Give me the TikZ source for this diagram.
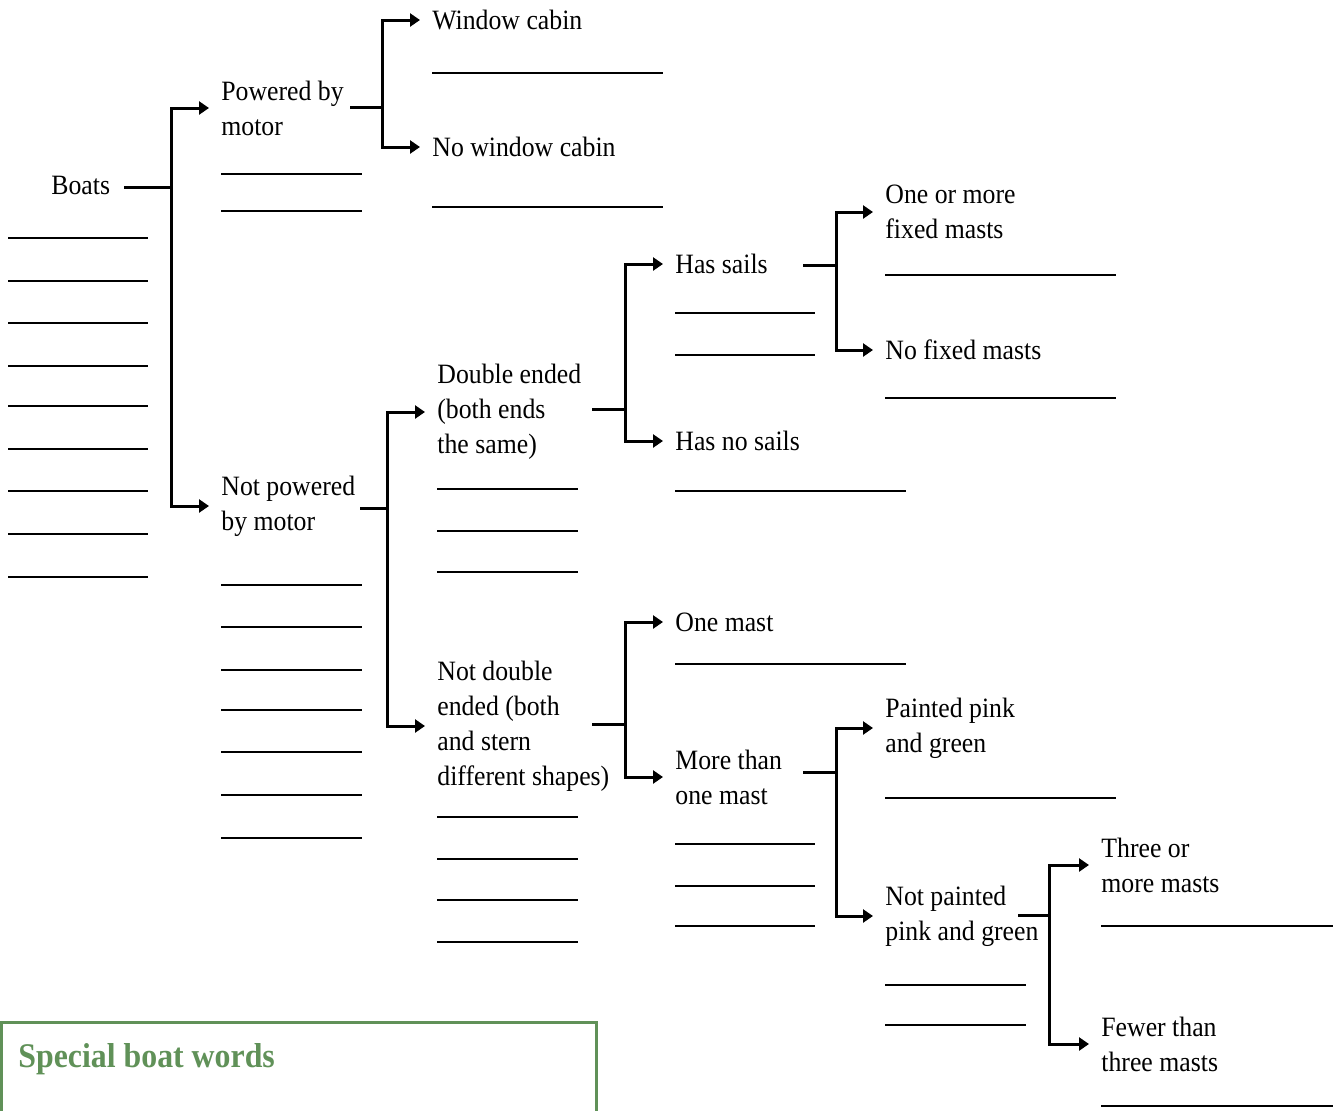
\documentclass[tikz,border=0pt]{standalone}
\usepackage{fontspec}
\setmainfont[FakeStretch=0.92]{Liberation Serif}
\usepackage{tikz}
\usetikzlibrary{arrows.meta}
\definecolor{boxgreen}{RGB}{96,145,88}

\begin{document}
\begin{tikzpicture}[x=0.5pt, y=-0.5pt,
  lbl/.style={anchor=west, align=left, inner xsep=6pt, inner ysep=2pt, font=\fontsize{14}{17.5}\selectfont},
  link/.style={line width=1.5pt},
  arr/.style={link, -{Triangle[length=5pt,width=6.5pt]}},
  rule/.style={line width=1.35pt}]
\useasboundingbox (0,0) rectangle (1339,1110);
% labels
\node[lbl] (boats)      at (39,185)   {Boats};
\node[lbl] (powered)    at (209,108)  {Powered by\\motor};
\node[lbl] (window)     at (420,20)   {Window cabin};
\node[lbl] (nowindow)   at (420,147)  {No window cabin};
\node[lbl] (notpowered) at (209,506)  {Not powered\\by motor};
\node[lbl] (double)     at (425,412)  {Double ended\\(both ends\\the same)};
\node[lbl] (notdouble)  at (425,726)  {Not double\\ended (both\\and stern\\different shapes)};
\node[lbl] (hassails)   at (663,264)  {Has sails};
\node[lbl] (hasnosails) at (663,441)  {Has no sails};
\node[lbl] (fixed)      at (873,212)  {One or more\\fixed masts};
\node[lbl] (nofixed)    at (873,350)  {No fixed masts};
\node[lbl] (onemast)    at (663,622)  {One mast};
\node[lbl] (morethan)   at (663,777)  {More than\\one mast};
\node[lbl] (painted)    at (873,728)  {Painted pink\\and green};
\node[lbl] (notpainted) at (873,916)  {Not painted\\pink and green};
\node[lbl] (three)      at (1089,865) {Three or\\more masts};
\node[lbl] (fewer)      at (1089,1044){Fewer than\\three masts};
% branch points
\coordinate (b0) at (124,187);  \coordinate (b1) at (171,187);
\coordinate (p0) at (350,107);  \coordinate (p1) at (382,107);
\coordinate (n0) at (360,508);  \coordinate (n1) at (387,508);
\coordinate (d0) at (592,409);  \coordinate (d1) at (625,409);
\coordinate (s0) at (803,265);  \coordinate (s1) at (836,265);
\coordinate (e0) at (592,724);  \coordinate (e1) at (625,724);
\coordinate (m0) at (803,772);  \coordinate (m1) at (836,772);
\coordinate (g0) at (1018,915); \coordinate (g1) at (1049,915);
\draw[link] (b0) -- (b1);
\draw[arr] (b1) |- (powered.west);
\draw[arr] (b1) |- (notpowered.west);
\draw[link] (p0) -- (p1);
\draw[arr] (p1) |- (window.west);
\draw[arr] (p1) |- (nowindow.west);
\draw[link] (n0) -- (n1);
\draw[arr] (n1) |- (double.west);
\draw[arr] (n1) |- (notdouble.west);
\draw[link] (d0) -- (d1);
\draw[arr] (d1) |- (hassails.west);
\draw[arr] (d1) |- (hasnosails.west);
\draw[link] (s0) -- (s1);
\draw[arr] (s1) |- (fixed.west);
\draw[arr] (s1) |- (nofixed.west);
\draw[link] (e0) -- (e1);
\draw[arr] (e1) |- (onemast.west);
\draw[arr] (e1) |- (morethan.west);
\draw[link] (m0) -- (m1);
\draw[arr] (m1) |- (painted.west);
\draw[arr] (m1) |- (notpainted.west);
\draw[link] (g0) -- (g1);
\draw[arr] (g1) |- (three.west);
\draw[arr] (g1) |- (fewer.west);
% writing lines
\foreach \xa/\xb/\y in {8/148/238, 8/148/281, 8/148/323, 8/148/366, 8/148/406, 8/148/449, 8/148/491, 8/148/534, 8/148/577,
  221/362/174, 221/362/211, 432/663/73, 432/663/207,
  221/362/585, 221/362/627, 221/362/670, 221/362/710, 221/362/752, 221/362/795, 221/362/838,
  437/578/489, 437/578/531, 437/578/572, 437/578/817, 437/578/859, 437/578/900, 437/578/942,
  675/815/313, 675/815/355, 885/1116/275, 885/1116/398, 675/906/491, 675/906/664,
  675/815/844, 675/815/886, 675/815/926, 885/1116/798, 885/1026/985, 885/1026/1025,
  1101/1333/926, 1101/1333/1106}
  \draw[rule] (\xa,\y) -- (\xb,\y);
% word box
\draw[boxgreen, line width=1.5pt] (1,1140) -- (1,1022) -- (596,1022) -- (596,1140);
\node[anchor=west, inner sep=0pt, text=boxgreen, font=\fontsize{17.3}{20}\selectfont\bfseries] (words) at (18,1059) {Special boat words};
\end{tikzpicture}
\end{document}
